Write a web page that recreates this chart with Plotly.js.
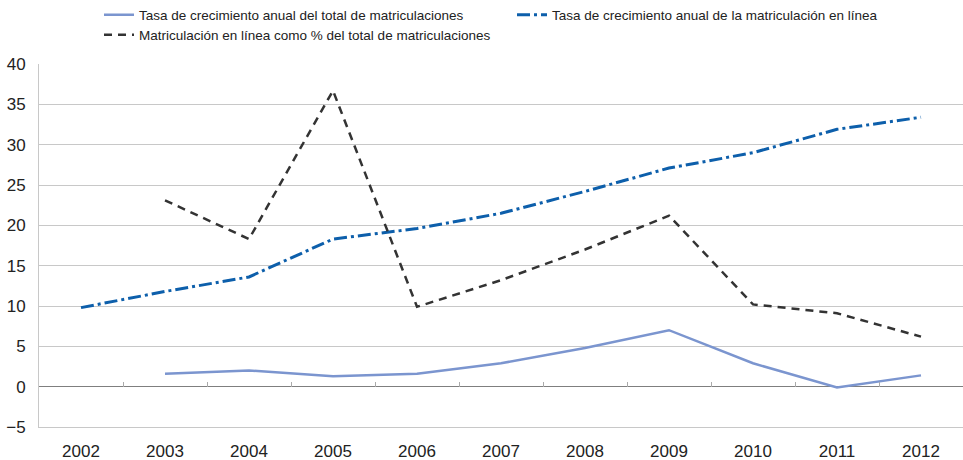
<!DOCTYPE html>
<html>
<head>
<meta charset="utf-8">
<script src="https://cdn.plot.ly/plotly-3.0.1.min.js"></script>
<style>html,body{margin:0;padding:0;background:#fff;}#chart{width:963px;height:460px;}</style>
</head>
<body>
<div id="chart"></div>
<script>
const years = ['2002','2003','2004','2005','2006','2007','2008','2009','2010','2011','2012'];
const totalGrowth = [null, 1.6, 2.0, 1.3, 1.6, 2.9, 4.8, 7.0, 2.9, -0.1, 1.4];
const onlineGrowth = [9.8, 11.8, 13.6, 18.3, 19.6, 21.5, 24.2, 27.1, 29.0, 31.9, 33.4];
const onlineShare = [null, 23.1, 18.3, 36.7, 9.9, 13.2, 17.0, 21.2, 10.2, 9.1, 6.2];
const seriesNames = [
  'Tasa de crecimiento anual del total de matriculaciones',
  'Tasa de crecimiento anual de la matriculación en línea',
  'Matriculación en línea como % del total de matriculaciones'
];
const yTicks = [-5, 0, 5, 10, 15, 20, 25, 30, 35, 40];

const sans = '"Liberation Sans", Arial, Helvetica, sans-serif';

const traces = [
  {x: years, y: totalGrowth, name: seriesNames[0], type: 'scatter', mode: 'lines',
   line: {color: '#7b95cf', width: 2.5}, legend: 'legend'},
  {x: years, y: onlineGrowth, name: seriesNames[1], type: 'scatter', mode: 'lines',
   line: {color: '#0d5fab', width: 3, dash: '13px,4px,3px,4px'}, legend: 'legend2'},
  {x: years, y: onlineShare, name: seriesNames[2], type: 'scatter', mode: 'lines',
   line: {color: '#333333', width: 2.5, dash: '8px,6px'}, legend: 'legend3'},
  {x: years, y: years.map(() => null), xaxis: 'x2', yaxis: 'y', showlegend: false,
   hoverinfo: 'skip', type: 'scatter', mode: 'lines'}
];

function legendAt(x, y) {
  return {
    orientation: 'h', xref: 'container', yref: 'container', x: x, y: y,
    xanchor: 'left', yanchor: 'middle',
    font: {family: sans, size: 13.5, color: '#222'},
    itemwidth: 30, bgcolor: 'rgba(0,0,0,0)', borderwidth: 0
  };
}

const layout = {
  width: 963, height: 460,
  margin: {l: 39, r: 0, t: 64, b: 33},
  paper_bgcolor: '#ffffff', plot_bgcolor: '#ffffff',
  font: {family: sans, color: '#222222', size: 12},
  showlegend: true,
  xaxis: {
    type: 'category', range: [-0.5, 10.5],
    showgrid: false, zeroline: false,
    showline: true, linecolor: '#c8c8c8', linewidth: 1,
    ticks: '', tickfont: {family: sans, size: 17, color: '#222'},
    ticklabelstandoff: 9
  },
  xaxis2: {
    type: 'category', range: [-0.5, 10.5], overlaying: 'x', anchor: 'free', position: 5/45,
    showgrid: false, zeroline: false, showline: false, showticklabels: false,
    ticks: 'inside', ticklen: 5, tickwidth: 1, tickcolor: '#aaaaaa', tickson: 'boundaries'
  },
  yaxis: {
    range: [-5, 40], tickvals: yTicks,
    showgrid: true, gridcolor: '#c8c8c8', gridwidth: 1,
    zeroline: true, zerolinecolor: '#7f7f7f', zerolinewidth: 1.5,
    showline: true, linecolor: '#c8c8c8', linewidth: 1,
    ticks: '', tickfont: {family: sans, size: 17, color: '#222'},
    ticklabelstandoff: 9
  },
  legend: legendAt(0.1028, 1 - 15/460),
  legend2: legendAt(0.5317, 1 - 15/460),
  legend3: legendAt(0.1028, 1 - 35/460)
};

Plotly.newPlot('chart', traces, layout, {staticPlot: true, displayModeBar: false});
</script>
</body>
</html>
